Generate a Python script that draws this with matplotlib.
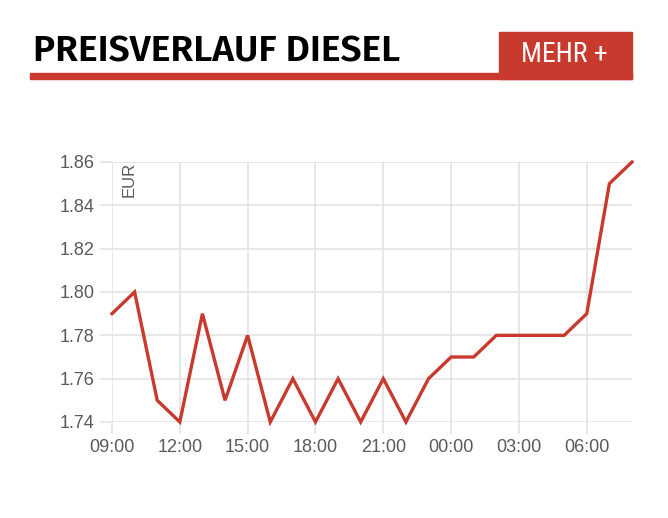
import matplotlib.pyplot as plt
from matplotlib.patches import Rectangle

# Daten: Dieselpreis pro Stunde
hours = ['09:00', '10:00', '11:00', '12:00', '13:00', '14:00', '15:00', '16:00',
         '17:00', '18:00', '19:00', '20:00', '21:00', '22:00', '23:00', '00:00',
         '01:00', '02:00', '03:00', '04:00', '05:00', '06:00', '07:00', '08:00']
prices = [1.79, 1.80, 1.75, 1.74, 1.79, 1.75, 1.78, 1.74,
          1.76, 1.74, 1.76, 1.74, 1.76, 1.74, 1.76, 1.77,
          1.77, 1.78, 1.78, 1.78, 1.78, 1.79, 1.85, 1.86]
y_ticks = [1.74, 1.76, 1.78, 1.80, 1.82, 1.84, 1.86]

red = '#c8392e'
grid_col = '#e3e3e3'
text_col = '#5a5a5a'
head_font = ['Fira Sans', 'DejaVu Sans']

plt.rcParams['font.family'] = ['Liberation Sans', 'DejaVu Sans']

W, H = 668, 518
fig = plt.figure(figsize=(W / 100, H / 100), dpi=100)

# Kopfzeile
fig.text(33 / W, 1 - 52 / H, 'PREISVERLAUF DIESEL', family=head_font, fontweight=600,
         fontsize=26.8, color='black', va='center', ha='left')
fig.patches.append(Rectangle((30 / W, 1 - 79 / H), 602 / W, 6 / H,
                             transform=fig.transFigure, color=red, zorder=1))
fig.patches.append(Rectangle((499 / W, 1 - 79 / H), 133 / W, 47 / H,
                             transform=fig.transFigure, color=red, zorder=1))
fig.text(564 / W, 1 - 55 / H, 'MEHR +', family=['Roboto Condensed', 'DejaVu Sans'],
         fontsize=20, color='white', va='center', ha='center')

# Diagramm
ax = fig.add_axes([112 / W, 1 - 422 / H, 520 / W, 260 / H])
x = list(range(len(hours)))
ax.plot(x, prices, color=red, linewidth=2.4, solid_joinstyle='miter', zorder=3, clip_on=False)

ax.set_xlim(0, len(hours) - 1)
ax.set_ylim(1.74, 1.86)
ax.set_xticks(x[::3])
ax.set_xticklabels(hours[::3])
ax.set_yticks(y_ticks)
ax.set_yticklabels([f'{v:.2f}' for v in y_ticks])
ax.grid(True, color=grid_col, linewidth=1.2)
for s in ax.spines.values():
    s.set_visible(False)
ax.tick_params(axis='both', colors=grid_col, labelcolor=text_col, labelsize=13,
               length=8.6, width=1.2, pad=4)
ax.text(0.75, 1.86, 'EUR', rotation=90, ha='center', va='top', fontsize=12, color=text_col)

fig.savefig('out.png', dpi=100)
